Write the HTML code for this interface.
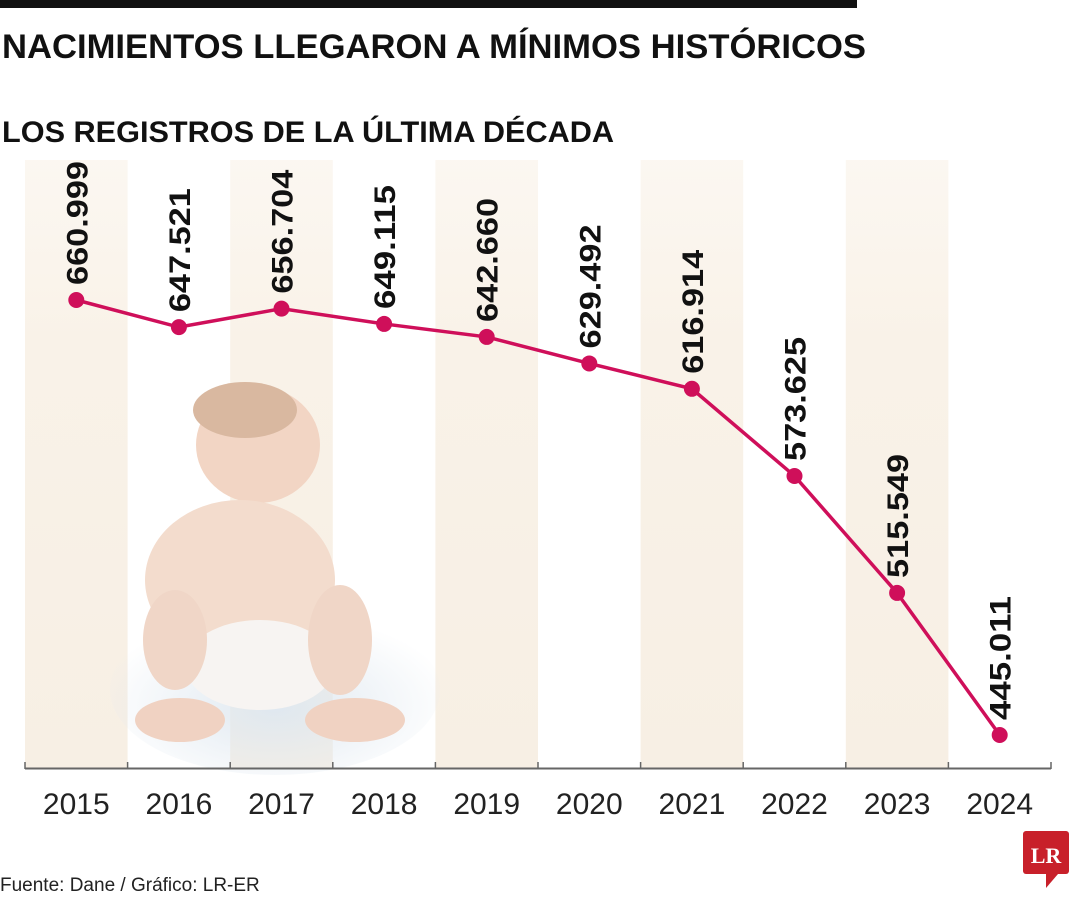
<!DOCTYPE html>
<html><head><meta charset="utf-8">
<style>
body{margin:0;background:#fff;width:1080px;height:900px;overflow:hidden;font-family:"Liberation Sans",sans-serif;}
</style></head>
<body>
<svg width="1080" height="900" xmlns="http://www.w3.org/2000/svg">
<defs>
<radialGradient id="glow" cx="50%" cy="60%" r="55%"><stop offset="0%" stop-color="#dfe8f0"/><stop offset="100%" stop-color="#dfe8f0" stop-opacity="0"/></radialGradient>
<linearGradient id="sg" x1="0" y1="0" x2="0" y2="1"><stop offset="0%" stop-color="#f9f2e8" stop-opacity="0.6"/><stop offset="30%" stop-color="#f9f2e8"/><stop offset="100%" stop-color="#f7efe4"/></linearGradient>
</defs>
<rect x="0" y="0" width="857" height="8" fill="#111"/>
<text x="2" y="58" font-size="34" font-weight="bold" fill="#111" textLength="864" lengthAdjust="spacingAndGlyphs">NACIMIENTOS LLEGARON A MÍNIMOS HISTÓRICOS</text>
<text x="2" y="142" font-size="30" font-weight="bold" fill="#111" textLength="612" lengthAdjust="spacingAndGlyphs">LOS REGISTROS DE LA ÚLTIMA DÉCADA</text>
<g id="stripes"></g>
<g id="baby">
<ellipse cx="275" cy="690" rx="165" ry="85" fill="url(#glow)"/>
<ellipse cx="258" cy="445" rx="62" ry="58" fill="#f2d5c4"/>
<ellipse cx="245" cy="410" rx="52" ry="28" fill="#d9b8a0"/>
<ellipse cx="240" cy="580" rx="95" ry="80" fill="#f3dccd"/>
<ellipse cx="260" cy="665" rx="75" ry="45" fill="#f7f4f2"/>
<ellipse cx="180" cy="720" rx="45" ry="22" fill="#f0d2c2"/>
<ellipse cx="355" cy="720" rx="50" ry="22" fill="#f0d2c2"/>
<ellipse cx="175" cy="640" rx="32" ry="50" fill="#f0d6c7"/>
<ellipse cx="340" cy="640" rx="32" ry="55" fill="#f0d6c7"/>
</g>
<g id="axis"></g>
<g id="series"></g>
<text x="0" y="891" font-size="19" fill="#222">Fuente: Dane / Gráfico: LR-ER</text>
<g>
<rect x="1023" y="831" width="46" height="43" rx="3" fill="#c8202a"/>
<polygon points="1046,874 1058,874 1046,888" fill="#c8202a"/>
<text x="1046" y="863" font-family="Liberation Serif,serif" font-weight="bold" font-size="22" fill="#fff" text-anchor="middle">LR</text>
</g>
</svg>
<script>
const years=["2015","2016","2017","2018","2019","2020","2021","2022","2023","2024"];
const births=[660999,647521,656704,649115,642660,629492,616914,573625,515549,445011];
const labels=["660.999","647.521","656.704","649.115","642.660","629.492","616.914","573.625","515.549","445.011"];
const NS="http://www.w3.org/2000/svg";
const x0=25,band=102.6;
function xs(i){return x0+band*(i+0.5);}
function ys(v){return 300+(660999-v)*(435/215988);}
function mk(t,a,p){const e=document.createElementNS(NS,t);for(const k in a)e.setAttribute(k,a[k]);p.appendChild(e);return e;}
const st=document.getElementById('stripes'),ax=document.getElementById('axis'),se=document.getElementById('series');
years.forEach((y,i)=>{if(i%2===0){const r=mk('rect',{x:x0+band*i,y:160,width:band,height:608,fill:'url(#sg)'},st);

}});
mk('line',{x1:x0,y1:768.5,x2:x0+band*10,y2:768.5,stroke:'#666','stroke-width':2},ax);
for(let i=0;i<=10;i++)mk('line',{x1:x0+band*i,y1:762,x2:x0+band*i,y2:769,stroke:'#666','stroke-width':1.5},ax);
years.forEach((y,i)=>{const t=mk('text',{x:xs(i),y:814,'font-size':30,fill:'#222','text-anchor':'middle'},ax);t.textContent=y;

});
const pl=mk('polyline',{points:births.map((v,i)=>xs(i)+','+ys(v)).join(' '),fill:'none',stroke:'#cf0f5a','stroke-width':3.5},se);


births.forEach((v,i)=>{const c=mk('circle',{cx:xs(i),cy:ys(v),r:8,fill:'#cf0f5a'},se);


const lx=xs(i)+11,ly=ys(v)-15;
const t=mk('text',{x:lx,y:ly,'font-size':30,'font-weight':'bold',fill:'#111',textLength:124,lengthAdjust:'spacingAndGlyphs',transform:`rotate(-90 ${lx} ${ly})`},se);
t.textContent=labels[i];

});
</script>
</body></html>
